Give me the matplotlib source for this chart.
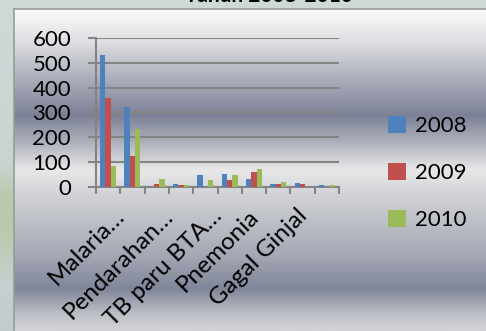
#!/usr/bin/env python3
"""Kasus penyakit terbanyak per tahun, 2008-2010 (grafik batang berkelompok)."""

import numpy as np
import matplotlib
matplotlib.use("Agg")
from matplotlib import pyplot as plt
from matplotlib.colors import LinearSegmentedColormap
from matplotlib.patches import Patch

plt.rcParams["font.family"] = ["Lato", "DejaVu Sans"]

# ten disease categories, only every second label is printed on the axis
categories = ["Malaria…", "", "Pendarahan…", "", "TB paru BTA…", "",
              "Pnemonia", "", "Gagal Ginjal", ""]
years = ["2008", "2009", "2010"]
cases_2008 = [531, 323, 0, 9, 47, 50, 31, 11, 15, 6]
cases_2009 = [358, 125, 9, 7, 0, 27, 61, 11, 9, 0]
cases_2010 = [82, 233, 31, 7, 28, 47, 70, 20, 0, 5]
colors = ["#4f81bd", "#c0504d", "#9bbb59"]

W, H = 486, 331
fig = plt.figure(figsize=(W / 100, H / 100), dpi=100)

# outer backdrop strip (left edge) with a faint greenish patch
bg = fig.add_axes([0, 0, 1, 1], zorder=-3)
outer = LinearSegmentedColormap.from_list(
    "outer", [(0, "#cfd9d8"), (0.5, "#c9d3cf"), (0.6, "#b9c9aa"),
              (0.72, "#bccab0"), (0.85, "#c6d0ce"), (1, "#c2cccc")])
bg.imshow(np.linspace(0, 1, 256)[:, None], aspect="auto", cmap=outer,
          extent=[0, 1, 0, 1], origin="upper")
bg.set_xlim(0, 1)
bg.set_ylim(0, 1)
bg.axis("off")

# chart panel with the banded grey gradient
px = 14 / W
py_top = 9 / H
panel = fig.add_axes([px, 0, 1 - px, 1 - py_top], zorder=-2)
bands = LinearSegmentedColormap.from_list(
    "bands", [(0, "#fbfbfb"), (0.1, "#dedfe2"), (0.22, "#a9acb9"),
              (0.33, "#7c8196"), (0.42, "#b2b5bf"), (0.5, "#e8e8e8"),
              (0.6, "#cbcdd2"), (0.76, "#a7aab6"), (0.87, "#80869a"),
              (0.95, "#bfc1c8"), (1, "#d2d3d7")])
panel.imshow(np.linspace(0, 1, 256)[:, None], aspect="auto", cmap=bands,
             extent=[0, 1, 0, 1], origin="upper")
panel.set_xlim(0, 1)
panel.set_ylim(0, 1)
panel.set_xticks([])
panel.set_yticks([])
for side in ["right", "bottom"]:
    panel.spines[side].set_visible(False)
for side in ["left", "top"]:
    panel.spines[side].set_color("#9a9a9a")
    panel.spines[side].set_linewidth(1.2)

fig.text(269 / W, 1 - 2.5 / H, "Tahun 2008-2010", ha="center", va="baseline",
         fontsize=15, fontweight="bold", color="black")

# bar plot area
ax = fig.add_axes([96 / W, 1 - 186.7 / H, 243 / W, 148.7 / H])
ax.patch.set_alpha(0)
x = np.arange(len(categories)) + 0.5
width = 0.22
for i, (vals, c) in enumerate(zip([cases_2008, cases_2009, cases_2010], colors)):
    ax.bar(x + (i - 1) * width, vals, width, color=c, zorder=3)

ax.set_xlim(0, len(categories))
ax.set_ylim(0, 600)
ax.set_yticks(range(0, 601, 100))
ax.set_xticks(range(len(categories) + 1))
ax.set_xticklabels([])
ax.yaxis.grid(True, color="#848484", linewidth=1.5, zorder=1)
ax.tick_params(axis="y", length=6, width=1.5, color="#848484", pad=12,
               labelsize=16)
ax.tick_params(axis="x", length=5, width=1.5, color="#848484")
for side in ["top", "right"]:
    ax.spines[side].set_visible(False)
for side in ["left", "bottom"]:
    ax.spines[side].set_color("#848484")
    ax.spines[side].set_linewidth(1.5)

for xi, lab in zip(x, categories):
    if lab:
        # truncated names sit a little further right
        dx = 13 if lab.endswith("…") else 1
        ax.annotate(lab, (xi, 0), xytext=(dx, -26), textcoords="offset pixels",
                    rotation=45, rotation_mode="anchor", ha="right", va="center",
                    fontsize=17.5)

handles = [Patch(facecolor=c, edgecolor="none") for c in colors]
fig.legend(handles, years, loc="center left", bbox_to_anchor=(388 / W, 1 - 173 / H),
           frameon=False, fontsize=16, handlelength=0.8, handleheight=0.8,
           handletextpad=0.4, labelspacing=1.2, borderpad=0, borderaxespad=0)

fig.savefig("out.png", dpi=100)
